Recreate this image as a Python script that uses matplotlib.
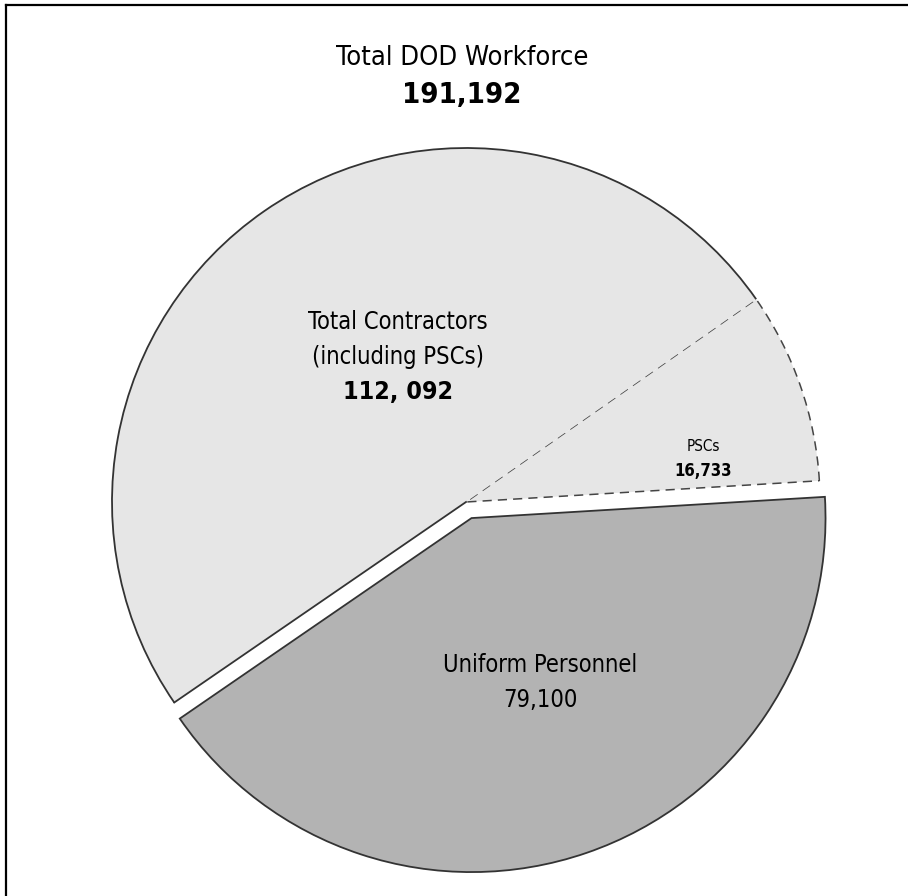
import matplotlib
matplotlib.use('Agg')
import matplotlib.pyplot as plt
from matplotlib.patches import Arc
from matplotlib.lines import Line2D
import numpy as np

plt.rcParams['font.family'] = ['DejaVu Sans']
plt.rcParams['font.stretch'] = 'condensed'

# data
labels = ['Uniform Personnel', 'PSCs', 'Other contractors']
values = [79100, 16733, 112092 - 16733]
total = 191192
contractors_total = 112092
colors = ['#b3b3b3', '#e6e6e6', '#e6e6e6']
explode = [17, 0, 0]

W, H = 908, 896
fig = plt.figure(figsize=(W / 100, H / 100), dpi=100)
ax = fig.add_axes([0, 0, 1, 1])

cx, cy, r = 466, H - 502, 354
wedges, _ = ax.pie(values, colors=colors, explode=explode, startangle=214.5,
                   center=(cx, cy), radius=r, counterclock=True,
                   wedgeprops=dict(linewidth=0))
ax.set_xlim(0, W)
ax.set_ylim(0, H)
ax.set_aspect('equal')
ax.axis('off')

# uniform slice: solid outline
wedges[0].set_edgecolor('#333333')
wedges[0].set_linewidth(1.3)

# PSC slice: dashed outline
wedges[1].set_edgecolor('#444444')
wedges[1].set_linewidth(1.1)
wedges[1].set_linestyle((0, (6, 4)))

# rest of contractors: solid outer arc + lower radial edge only
w = wedges[2]
ax.add_patch(Arc(w.center, 2 * w.r, 2 * w.r, theta1=w.theta1, theta2=w.theta2,
                 color='#333333', lw=1.3, zorder=3))
t = np.deg2rad(w.theta2)
ax.plot([w.center[0], w.center[0] + w.r * np.cos(t)],
        [w.center[1], w.center[1] + w.r * np.sin(t)], color='#333333', lw=1.3, zorder=3)

# labels
ax.text(462, H - 58, 'Total DOD Workforce', ha='center', va='center', fontsize=19.5)
ax.text(462, H - 95, f'{total:,}', ha='center', va='center', fontsize=21, fontweight='bold')

ax.text(398, H - 322, 'Total Contractors', ha='center', va='center', fontsize=17)
ax.text(398, H - 357, '(including PSCs)', ha='center', va='center', fontsize=17)
ax.text(398, H - 392, f'{contractors_total:,}'.replace(',', ', '), ha='center', va='center',
        fontsize=18, fontweight='bold')

ax.text(703, H - 446, 'PSCs', ha='center', va='center', fontsize=11)
ax.text(703, H - 471, f'{values[1]:,}', ha='center', va='center', fontsize=12, fontweight='bold')

ax.text(540, H - 665, 'Uniform Personnel', ha='center', va='center', fontsize=17)
ax.text(540, H - 700, f'{values[0]:,}', ha='center', va='center', fontsize=17)

# frame lines (top and left)
fig.add_artist(Line2D([6 / W, 1], [1 - 5 / H, 1 - 5 / H], color='black', lw=1.6))
fig.add_artist(Line2D([6 / W, 6 / W], [0, 1 - 5 / H], color='black', lw=1.6))

fig.savefig('out.png', dpi=100)
